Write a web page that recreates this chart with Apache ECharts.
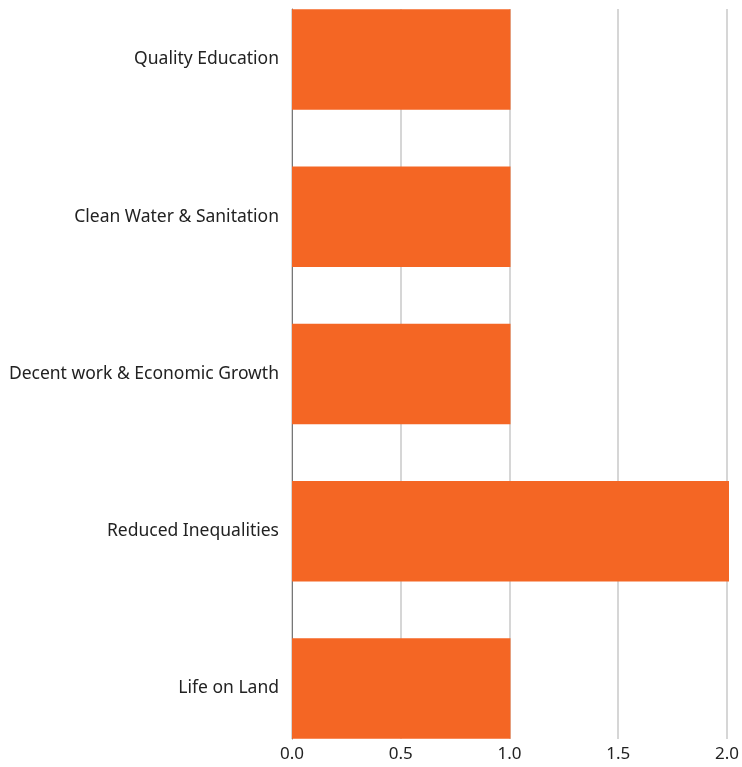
<!DOCTYPE html>
<html><head><meta charset="utf-8">
<script src="https://cdn.jsdelivr.net/npm/echarts@6/dist/echarts.min.js"></script>
<style>html,body{margin:0;padding:0;background:#fff}#c{width:742px;height:767px}</style>
</head><body><div id="c"></div>
<script>
const categories = ["Quality Education", "Clean Water & Sanitation", "Decent work & Economic Growth", "Reduced Inequalities", "Life on Land"];
const values = [1, 1, 1, 2, 1];
const xTicks = [0, 0.5, 1.0, 1.5, 2.0];

const FONT = "Noto Sans";
const chart = echarts.init(document.getElementById('c'), null, {renderer: 'canvas'});
chart.setOption({
  animation: false,
  grid: [
    {left: 292, right: 13, top: 59.5, bottom: 78.5},
    {left: 292, right: 13, top: 9, bottom: 28}
  ],
  xAxis: [
    {gridIndex: 0, type: 'value', min: xTicks[0], max: xTicks[xTicks.length-1], interval: 0.5, show: false},
    {gridIndex: 1, type: 'value', min: xTicks[0], max: xTicks[xTicks.length-1], interval: 0.5,
      axisLine: {show: false}, axisTick: {show: false},
      splitLine: {show: true, lineStyle: {color: '#c8c8c8', width: 1.5}},
      axisLabel: {color: '#222', fontFamily: FONT, fontSize: 17, margin: 7,
        formatter: v => v.toFixed(1)}}
  ],
  yAxis: [
    {gridIndex: 0, type: 'category', inverse: true, data: categories, boundaryGap: false,
      axisLine: {show: false}, axisTick: {show: false}, splitLine: {show: false},
      axisLabel: {color: '#222', fontFamily: FONT, fontSize: 17.5, margin: 13}},
    {gridIndex: 1, type: 'value', min: 0, max: 1, show: true,
      axisLine: {show: true, lineStyle: {color: '#777', width: 1}}, axisTick: {show: false},
      axisLabel: {show: false}, splitLine: {show: false}}
  ],
  series: [{
    type: 'bar', xAxisIndex: 0, yAxisIndex: 0, data: values, barWidth: 100.7, clip: false,
    itemStyle: {color: '#F46624'}, z: 3
  }]
});
</script></body></html>
